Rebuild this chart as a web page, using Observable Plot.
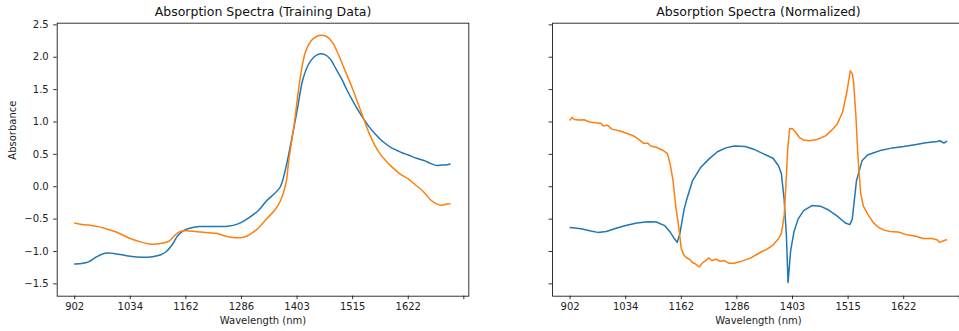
<!DOCTYPE html>
<html><head><meta charset="utf-8">
<script src="https://cdn.jsdelivr.net/npm/d3@7"></script>
<script src="https://cdn.jsdelivr.net/npm/@observablehq/plot@0.6"></script>
<style>
body{margin:0;background:#fff}
#wrap{position:relative;width:959px;height:331px;overflow:hidden;font-family:"DejaVu Sans",sans-serif;background:#fff}
#wrap svg{position:absolute;top:0;background:transparent}
</style></head><body><div id="wrap"></div>
<script>
// x = spectral band index; tick labels are the wavelengths (nm) at those bands
const tickIndex = [0, 20, 40, 60, 80, 100, 120, 140];
const tickLabels = ["902", "1034", "1162", "1286", "1403", "1515", "1622", ""];
const yTicks = [-1.5, -1, -0.5, 0, 0.5, 1, 1.5, 2, 2.5];
const titles = ["Absorption Spectra (Training Data)", "Absorption Spectra (Normalized)"];
const xLabel = "Wavelength (nm)";
const yLabel = "Absorbance";

// [band index, absorbance]
const trainBlue = [[0,-1.195],[3,-1.18],[5,-1.16],[8,-1.08],[10,-1.04],[12,-1.025],[14,-1.03],[17,-1.05],[20,-1.075],[24,-1.09],[28,-1.08],[31,-1.05],[33,-1.0],[35,-0.9],[37,-0.76],[39,-0.68],[41,-0.645],[45,-0.615],[50,-0.615],[55,-0.61],[58,-0.585],[60,-0.55],[63,-0.47],[66,-0.37],[69,-0.22],[72,-0.1],[74,0.0],[76,0.3],[78,0.72],[80,1.17],[82,1.64],[84,1.88],[86,2.0],[88,2.05],[90,2.04],[92,1.97],[94,1.82],[96,1.67],[98,1.49],[100,1.33],[102,1.18],[104,1.045],[106,0.92],[108,0.82],[110,0.73],[112,0.66],[114,0.6],[116,0.56],[118,0.52],[120,0.49],[123,0.44],[126,0.4],[128,0.36],[130,0.33],[132,0.335],[134,0.34],[135,0.35]];
const trainOrange = [[0,-0.56],[2,-0.58],[5,-0.59],[9,-0.62],[12,-0.66],[15,-0.7],[20,-0.8],[24,-0.855],[27,-0.885],[31,-0.875],[34,-0.84],[36,-0.75],[38,-0.69],[40,-0.68],[44,-0.695],[48,-0.71],[51,-0.72],[54,-0.76],[57,-0.785],[60,-0.785],[62,-0.76],[64,-0.71],[66,-0.64],[69,-0.5],[72,-0.36],[74,-0.22],[76,0.05],[77,0.4],[79,0.97],[81,1.64],[83,2.08],[85,2.25],[87,2.32],[89,2.34],[91,2.31],[93,2.21],[95,2.03],[97,1.82],[100,1.51],[102,1.28],[104,1.045],[106,0.82],[108,0.64],[110,0.5],[112,0.4],[114,0.31],[117,0.2],[120,0.12],[122,0.05],[124,-0.02],[126,-0.1],[128,-0.2],[130,-0.26],[132,-0.285],[134,-0.265],[135,-0.265]];
const normBlue = [[0,-0.628],[4,-0.65],[7,-0.68],[10,-0.705],[13,-0.69],[16,-0.65],[20,-0.6],[24,-0.56],[28,-0.54],[31,-0.545],[34,-0.6],[36,-0.7],[37.5,-0.8],[38.5,-0.86],[39.5,-0.72],[41,-0.35],[42,-0.19],[44,0.09],[47,0.3],[50,0.43],[53,0.54],[56,0.6],[59,0.63],[63,0.62],[66,0.58],[69,0.52],[73,0.44],[75,0.32],[76,0.2],[77,-0.2],[77.8,-0.75],[78.4,-1.48],[79.3,-1.0],[80.5,-0.7],[82,-0.5],[84,-0.37],[87,-0.29],[90,-0.3],[93,-0.36],[96,-0.45],[99,-0.56],[100.6,-0.585],[101.5,-0.5],[103,0.09],[105,0.4],[107,0.49],[109,0.52],[112,0.565],[116,0.6],[120,0.62],[124,0.65],[128,0.68],[132,0.7],[133,0.71],[134.5,0.675],[135.4,0.7]];
const normOrange = [[0,1.03],[0.7,1.07],[1.5,1.04],[3,1.03],[5,1.035],[7,1.0],[9,0.99],[11,0.98],[12,0.94],[13.5,0.95],[15,0.89],[18,0.86],[20,0.83],[22,0.8],[23,0.78],[25,0.72],[26.5,0.67],[28,0.67],[29,0.63],[31,0.61],[33.5,0.56],[35,0.51],[36,0.35],[37,0.1],[38,-0.3],[39,-0.6],[40,-0.96],[41,-1.06],[42,-1.1],[43,-1.12],[44,-1.17],[45,-1.19],[46.5,-1.24],[47.5,-1.18],[48.5,-1.15],[50,-1.1],[51,-1.14],[52.5,-1.12],[54,-1.15],[55.5,-1.14],[57,-1.18],[59,-1.18],[61,-1.16],[63,-1.13],[65,-1.1],[67,-1.05],[69,-1.0],[71,-0.96],[73,-0.9],[75,-0.8],[76,-0.72],[77,-0.45],[77.6,0.0],[78.3,0.6],[79,0.9],[80,0.895],[81,0.85],[82.5,0.76],[84,0.72],[86,0.71],[88,0.72],[90,0.75],[92,0.79],[94,0.87],[96,0.96],[98,1.15],[99.5,1.45],[100.8,1.79],[101.5,1.75],[102,1.6],[102.8,1.1],[103.5,0.5],[104.5,-0.1],[105.5,-0.3],[107,-0.42],[109,-0.55],[111,-0.63],[113,-0.67],[115,-0.69],[118,-0.7],[121,-0.74],[124,-0.76],[127,-0.8],[130,-0.8],[132,-0.82],[133,-0.86],[134.5,-0.83],[135.4,-0.82]];

const BLUE = "#1f77b4", ORANGE = "#ff7f0e";
const fmt = d3.format(".1f");

function panel(o) {
  const H = 331, mt = 22.67, mb = 331 - 295.67;
  const marks = [
    Plot.axisX(tickIndex, {tickSize: 3.5, tickPadding: 3.5, stroke: "#000", strokeWidth: 0.8, fill: "#222",
      tickFormat: d => tickLabels[tickIndex.indexOf(d)], label: null, fontSize: 10}),
    Plot.axisY(yTicks, {tickSize: 3.5, tickPadding: 5, stroke: "#000", strokeWidth: 0.8, fill: "#222",
      tickFormat: o.showY ? (d => fmt(d)) : (() => ""), label: null, fontSize: 10}),
    Plot.line(o.blue, {x: d => d[0], y: d => d[1], stroke: BLUE, strokeWidth: 1.5, curve: o.curve}),
    Plot.line(o.orange, {x: d => d[0], y: d => d[1], stroke: ORANGE, strokeWidth: 1.5, curve: o.curve}),
    Plot.frame({stroke: "#000", strokeWidth: 0.8}),
    Plot.text([o.title], {text: d => d, frameAnchor: "top", dy: -11.5, lineAnchor: "middle", fontSize: 12.5, fill: "#111"}),
    Plot.text([xLabel], {text: d => d, frameAnchor: "bottom", dy: 24.8, lineAnchor: "middle", fontSize: 10, fill: "#222"})
  ];
  if (o.showY) marks.push(Plot.text([yLabel], {text: d => d, frameAnchor: "left", dx: -44.4, rotate: -90, lineAnchor: "middle", fontSize: 10, fill: "#222"}));
  const svg = Plot.plot({
    width: o.width, height: H,
    marginLeft: o.ml, marginRight: o.mr, marginTop: mt, marginBottom: mb,
    style: {fontFamily: "DejaVu Sans", fontSize: "10px", background: "transparent"},
    x: {domain: [-6.3, 141.8]},
    y: {domain: [-1.69, 2.526]},
    marks
  });
  svg.style.left = o.left + "px";
  return svg;
}

const wrap = document.getElementById("wrap");
wrap.appendChild(panel({title: titles[0], blue: trainBlue, orange: trainOrange, showY: true, left: 0, width: 480, ml: 56.67, mr: 480 - 468.33, curve: "catmull-rom"}));
wrap.appendChild(panel({title: titles[1], blue: normBlue, orange: normOrange, showY: false, left: 479, width: 500, ml: 73.1, mr: 15.2, curve: "linear"}));
</script></body></html>
